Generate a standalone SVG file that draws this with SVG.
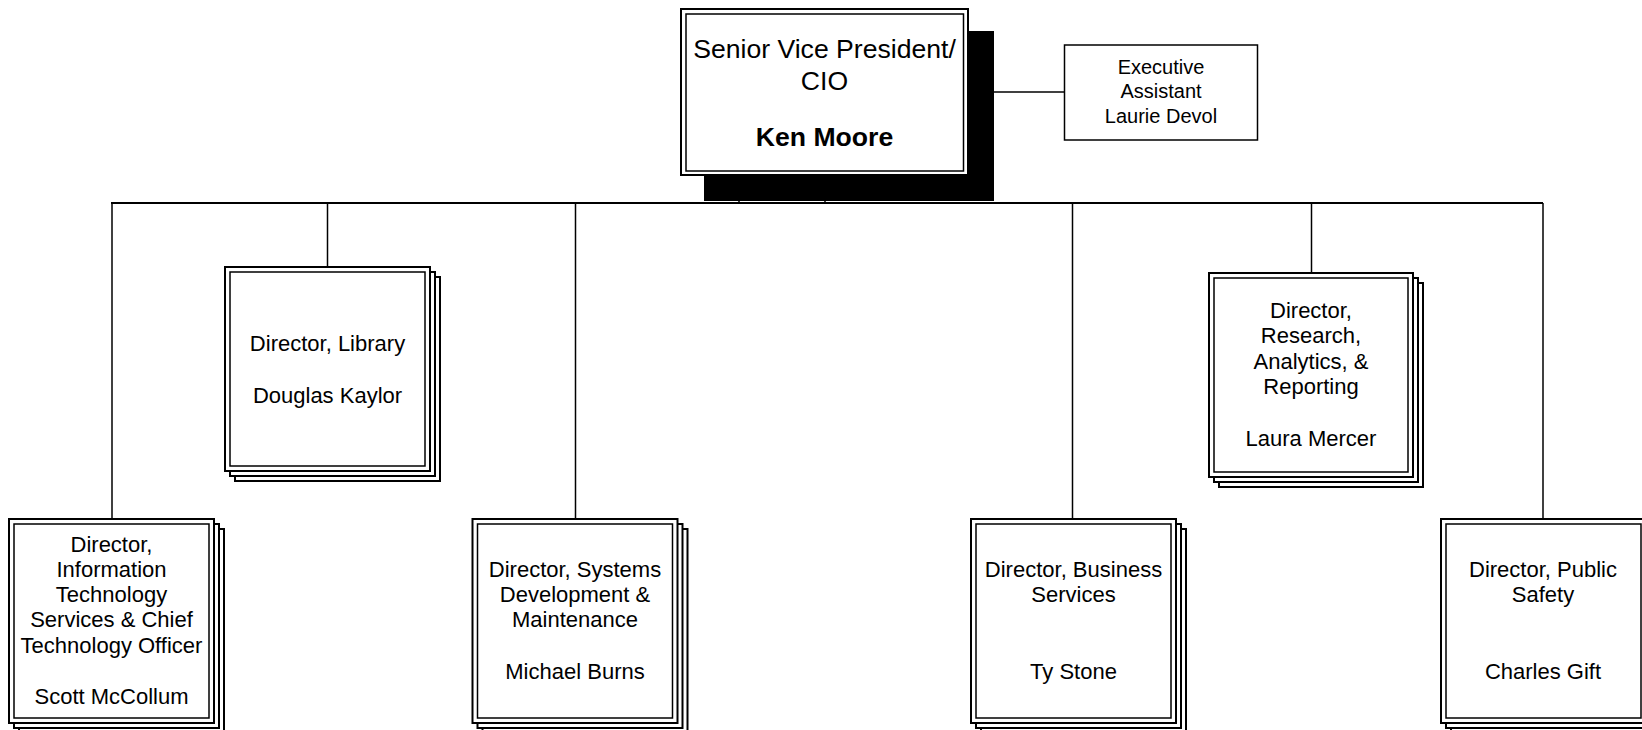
<svg xmlns="http://www.w3.org/2000/svg" width="1642" height="730" viewBox="0 0 1642 730">
<style>
.bg{fill:#fff}
.st{fill:#fff;stroke:#000;stroke-width:2}
.ou{fill:#fff;stroke:#000;stroke-width:2}
.in{fill:none;stroke:#000;stroke-width:1.5}
.sh{fill:#000}
.ln{stroke:#000;stroke-width:1.5;fill:none}
.hl{stroke:#000;stroke-width:2;fill:none}
text{font-family:"Liberation Sans",Arial,sans-serif;font-size:22px;fill:#000;text-anchor:middle}
.big{font-size:26.6px}
.bold{font-weight:bold}
.ex{font-size:20px}
</style>
<rect class="bg" x="0" y="0" width="1642" height="730"/>
<g id="connectors">
<line class="hl" x1="111" y1="203" x2="1543" y2="203"/>
<line class="ln" x1="739" y1="175" x2="739" y2="203"/>
<line class="ln" x1="825" y1="175" x2="825" y2="203"/>
<line class="ln" x1="968" y1="92" x2="1064.5" y2="92"/>
<line class="ln" x1="112" y1="203" x2="112" y2="519"/>
<line class="ln" x1="327.5" y1="203" x2="327.5" y2="267"/>
<line class="ln" x1="575.5" y1="203" x2="575.5" y2="519"/>
<line class="ln" x1="1072.5" y1="203" x2="1072.5" y2="519"/>
<line class="ln" x1="1311.5" y1="203" x2="1311.5" y2="273"/>
<line class="ln" x1="1543" y1="203" x2="1543" y2="519"/>
</g>
<g id="cio">
<rect class="sh" x="704" y="31" width="290" height="170"/>
<rect class="ou" x="681" y="9" width="287" height="166"/>
<rect class="in" x="686" y="14" width="277.5" height="157"/>
<text class="big" x="824.5" y="57.5">Senior Vice President/</text>
<text class="big" x="824.5" y="90">CIO</text>
<text class="big bold" x="824.5" y="145.5">Ken Moore</text>
</g>
<g id="exec">
<rect class="ln" x="1064.5" y="45" width="193" height="95" style="fill:#fff"/>
<text class="ex" x="1161" y="74">Executive</text>
<text class="ex" x="1161" y="98">Assistant</text>
<text class="ex" x="1161" y="123">Laurie Devol</text>
</g>
<g id="library">
<rect class="st" x="235" y="277" width="205" height="204"/>
<rect class="st" x="230" y="272" width="205" height="204"/>
<rect class="ou" x="225" y="267" width="205" height="204"/>
<rect class="in" x="230" y="272" width="195" height="194"/>
<text x="327.5" y="350.5">Director, Library</text>
<text x="327.5" y="402.8">Douglas Kaylor</text>
</g>
<g id="research">
<rect class="st" x="1219" y="283" width="204" height="204"/>
<rect class="st" x="1214" y="278" width="204" height="204"/>
<rect class="ou" x="1209" y="273" width="204" height="204"/>
<rect class="in" x="1214" y="278" width="194" height="194"/>
<text x="1311" y="318">Director,</text>
<text x="1311" y="343.3">Research,</text>
<text x="1311" y="368.6">Analytics, &amp;</text>
<text x="1311" y="393.9">Reporting</text>
<text x="1311" y="445.5">Laura Mercer</text>
</g>
<g id="its">
<rect class="st" x="19" y="529" width="205" height="204"/>
<rect class="st" x="14" y="524" width="205" height="204"/>
<rect class="ou" x="9" y="519" width="205" height="204"/>
<rect class="in" x="14" y="524" width="195" height="194"/>
<text x="111.5" y="551.5">Director,</text>
<text x="111.5" y="576.8">Information</text>
<text x="111.5" y="602.1">Technology</text>
<text x="111.5" y="627.4">Services &amp; Chief</text>
<text x="111.5" y="652.7">Technology Officer</text>
<text x="111.5" y="704">Scott McCollum</text>
</g>
<g id="systems">
<rect class="st" x="482.5" y="529" width="205" height="204"/>
<rect class="st" x="477.5" y="524" width="205" height="204"/>
<rect class="ou" x="472.5" y="519" width="205" height="204"/>
<rect class="in" x="477.5" y="524" width="195" height="194"/>
<text x="575" y="576.6">Director, Systems</text>
<text x="575" y="601.9">Development &amp;</text>
<text x="575" y="627.2">Maintenance</text>
<text x="575" y="678.5">Michael Burns</text>
</g>
<g id="business">
<rect class="st" x="981" y="529" width="205" height="204"/>
<rect class="st" x="976" y="524" width="205" height="204"/>
<rect class="ou" x="971" y="519" width="205" height="204"/>
<rect class="in" x="976" y="524" width="195" height="194"/>
<text x="1073.5" y="576.6">Director, Business</text>
<text x="1073.5" y="601.9">Services</text>
<text x="1073.5" y="678.5">Ty Stone</text>
</g>
<g id="safety">
<rect class="st" x="1451" y="529" width="205" height="204"/>
<rect class="st" x="1446" y="524" width="205" height="204"/>
<rect class="ou" x="1441" y="519" width="205" height="204"/>
<rect class="in" x="1446" y="524" width="195" height="194"/>
<text x="1543" y="576.6">Director, Public</text>
<text x="1543" y="601.9">Safety</text>
<text x="1543" y="678.5">Charles Gift</text>
</g>
</svg>
